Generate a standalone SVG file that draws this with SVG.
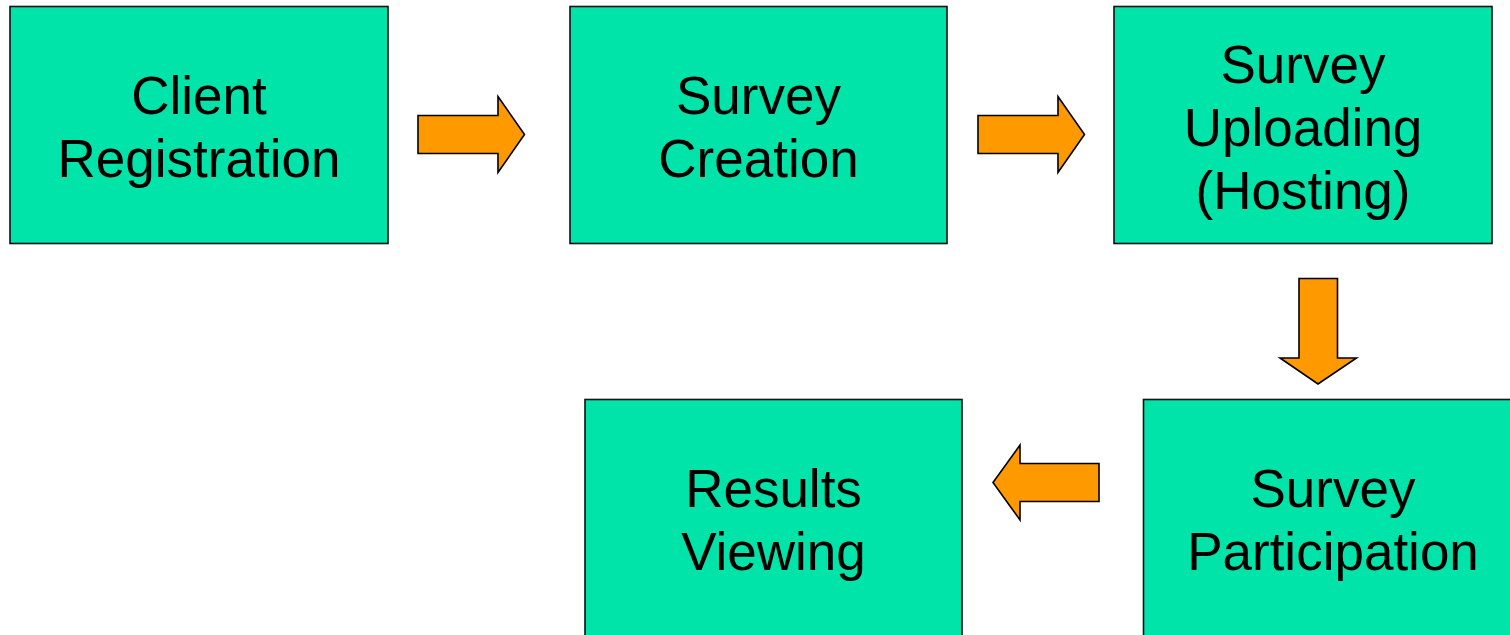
<svg xmlns="http://www.w3.org/2000/svg" width="1510" height="635" viewBox="0 0 1510 635">
<style>
.box{fill:#00E3A9;stroke:#111;stroke-width:1.6}
.arr{fill:#FF9900;stroke:#000;stroke-width:1.6;stroke-linejoin:miter}
.t{font-family:"Liberation Sans",Arial,sans-serif;font-size:53px;fill:#000;text-anchor:middle}
</style>
<rect width="1510" height="635" fill="#fff"/>
<g id="n1"><rect class="box" x="10" y="6.5" width="378" height="237"/><text class="t" x="199" y="114">Client</text><text class="t" x="199" y="177">Registration</text></g>
<g id="n2"><rect class="box" x="570" y="6.5" width="377" height="237"/><text class="t" x="758.5" y="114">Survey</text><text class="t" x="758.5" y="177">Creation</text></g>
<g id="n3"><rect class="box" x="1114" y="6.5" width="378" height="237"/><text class="t" x="1303" y="83">Survey</text><text class="t" x="1303" y="146">Uploading</text><text class="t" x="1303" y="209">(Hosting)</text></g>
<g id="n4"><rect class="box" x="1143.5" y="399.5" width="378" height="245"/><text class="t" x="1333" y="507">Survey</text><text class="t" x="1333" y="570">Participation</text></g>
<g id="n5"><rect class="box" x="585" y="399.5" width="377" height="245"/><text class="t" x="773.5" y="507">Results</text><text class="t" x="773.5" y="570">Viewing</text></g>
<g id="connectors">
<polygon class="arr" points="418,115.5 498,115.5 498,96.5 524.5,134.5 498,172.5 498,153.5 418,153.5"/>
<polygon class="arr" points="978,115.5 1058,115.5 1058,96.5 1084.5,134.5 1058,172.5 1058,153.5 978,153.5"/>
<polygon class="arr" points="1299,278.5 1337.5,278.5 1337.5,358 1356.5,358 1318,384 1280,358 1299,358"/>
<polygon class="arr" points="1099,463.5 1099,501.5 1020,501.5 1020,520 993,482.5 1020,445 1020,463.5"/>
</g>
</svg>
